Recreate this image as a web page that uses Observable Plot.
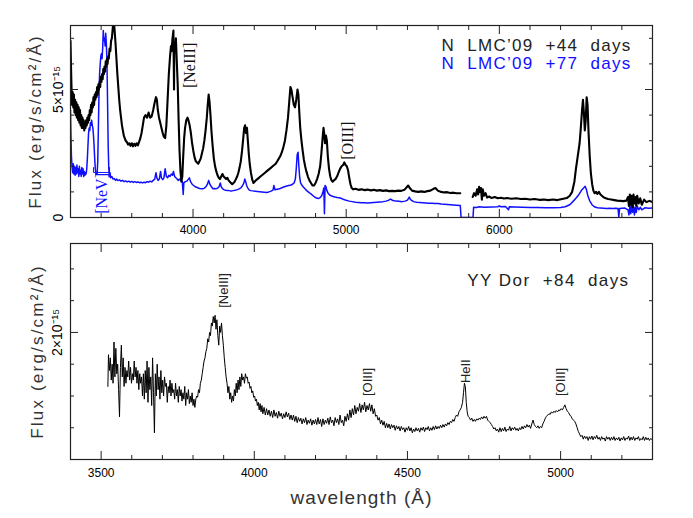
<!DOCTYPE html>
<html><head><meta charset="utf-8">
<script src="https://cdn.jsdelivr.net/npm/d3@7"></script>
<script src="https://cdn.jsdelivr.net/npm/@observablehq/plot@0.6"></script>
<style>
body{margin:0;background:#fff;}
#wrap{position:relative;width:693px;height:518px;overflow:hidden;}
#topPanel,#botPanel{position:absolute;left:0;}
#topPanel{top:0px}
#botPanel{top:240px}
</style></head><body><div id="wrap"><div id="topPanel"></div><div id="botPanel"></div></div>
<script>
// N LMC'09 +44 days  [wavelength Å, flux 1e-15 erg/s/cm2/Å]
const lmc44 = [[3200,6.9],[3203,6.0],[3206,5.2],[3210,4.4],[3214,4.9],[3218,4.3],[3222,4.8],[3226,4.1],[3230,4.6],[3234,4.0],[3238,4.5],[3242,3.9],[3246,4.4],[3250,3.8],[3254,4.3],[3258,3.7],[3262,4.2],[3266,3.6],[3270,4.0],[3274,3.5],[3278,3.9],[3282,3.5],[3286,3.8],[3290,3.4],[3294,3.7],[3298,3.5],[3302,3.8],[3306,3.6],[3310,3.9],[3314,3.7],[3318,4.0],[3322,3.8],[3326,4.2],[3330,4.0],[3334,4.4],[3338,4.1],[3342,4.5],[3346,4.3],[3350,4.7],[3354,4.4],[3358,4.8],[3362,4.6],[3366,4.9],[3370,4.7],[3374,5.1],[3378,4.8],[3382,5.2],[3386,5.0],[3390,5.3],[3394,5.1],[3398,5.5],[3402,5.3],[3406,5.6],[3410,5.4],[3414,5.8],[3418,5.6],[3422,5.9],[3426,5.7],[3430,6.1],[3434,5.9],[3438,6.2],[3442,6.0],[3446,6.3],[3450,6.2],[3455,6.6],[3460,6.5],[3465,6.9],[3470,7.0],[3476,7.4],[3482,7.8],[3488,7.3],[3494,6.8],[3500,6.2],[3506,5.6],[3512,5.1],[3518,4.6],[3524,4.2],[3530,3.9],[3536,3.6],[3542,3.4],[3548,3.2],[3554,3.1],[3560,3.0],[3568,2.95],[3576,2.85],[3584,2.9],[3592,2.8],[3600,2.9],[3608,2.78],[3616,2.88],[3624,2.8],[3632,2.9],[3640,2.82],[3648,2.95],[3656,3.1],[3664,3.3],[3672,3.6],[3680,3.9],[3690,4.0],[3700,3.9],[3710,4.1],[3720,3.9],[3730,3.95],[3740,4.2],[3750,4.5],[3758,4.7],[3764,4.6],[3770,4.2],[3778,3.9],[3786,3.7],[3794,3.5],[3802,3.3],[3810,3.15],[3818,3.1],[3826,3.6],[3834,4.6],[3842,5.6],[3850,6.3],[3856,6.7],[3860,6.5],[3866,7.0],[3872,7.3],[3876,5.0],[3878,6.8],[3884,6.5],[3888,7.0],[3894,6.1],[3900,5.2],[3906,3.8],[3912,2.6],[3918,1.8],[3924,1.4],[3930,1.6],[3936,2.4],[3942,3.1],[3948,3.5],[3956,3.8],[3964,3.9],[3970,3.8],[3978,3.6],[3986,3.3],[3994,2.9],[4002,2.6],[4010,2.35],[4018,2.2],[4026,2.15],[4034,2.1],[4042,2.2],[4050,2.3],[4058,2.5],[4066,2.7],[4074,3.0],[4082,3.4],[4090,3.9],[4096,4.4],[4102,4.8],[4108,4.5],[4114,4.0],[4120,3.4],[4128,2.8],[4136,2.3],[4144,2.0],[4152,1.8],[4160,1.65],[4168,1.55],[4176,1.5],[4184,1.6],[4192,1.7],[4200,1.6],[4208,1.55],[4216,1.5],[4224,1.55],[4232,1.45],[4240,1.4],[4248,1.35],[4256,1.3],[4264,1.35],[4272,1.4],[4280,1.5],[4288,1.6],[4296,1.75],[4304,1.95],[4312,2.2],[4320,2.6],[4328,3.1],[4334,3.5],[4340,3.6],[4346,3.3],[4352,3.5],[4358,3.0],[4364,2.5],[4370,2.1],[4378,1.75],[4386,1.5],[4394,1.35],[4402,1.4],[4410,1.45],[4420,1.5],[4430,1.55],[4440,1.6],[4450,1.65],[4460,1.7],[4470,1.75],[4480,1.8],[4490,1.85],[4500,1.9],[4510,1.95],[4520,2.0],[4530,2.05],[4540,2.1],[4550,2.2],[4560,2.3],[4570,2.4],[4580,2.55],[4590,2.75],[4600,3.0],[4610,3.4],[4620,3.9],[4628,4.5],[4636,5.1],[4642,5.0],[4650,4.7],[4658,4.4],[4666,4.3],[4674,4.6],[4682,5.0],[4688,4.8],[4694,4.1],[4700,3.5],[4708,3.0],[4716,2.6],[4724,2.25],[4732,2.0],[4740,1.8],[4750,1.6],[4760,1.45],[4770,1.35],[4780,1.25],[4790,1.25],[4800,1.35],[4810,1.5],[4820,1.7],[4830,2.0],[4838,2.5],[4846,3.1],[4852,3.5],[4858,3.2],[4862,2.9],[4868,3.2],[4874,3.0],[4880,2.4],[4888,1.9],[4896,1.6],[4904,1.45],[4912,1.4],[4920,1.45],[4930,1.5],[4940,1.6],[4950,1.75],[4960,1.9],[4970,2.0],[4980,2.05],[4988,2.15],[4996,2.05],[5004,2.0],[5012,1.85],[5020,1.55],[5028,1.3],[5036,1.15],[5046,1.1],[5060,1.12],[5080,1.08],[5100,1.1],[5120,1.07],[5140,1.09],[5160,1.06],[5180,1.08],[5200,1.05],[5220,1.07],[5240,1.04],[5260,1.06],[5280,1.03],[5300,1.04],[5320,1.03],[5340,1.05],[5360,1.04],[5380,1.08],[5395,1.18],[5405,1.25],[5415,1.15],[5430,1.05],[5450,1.02],[5470,1.0],[5490,1.02],[5510,1.0],[5530,1.03],[5550,1.05],[5570,1.12],[5584,1.15],[5598,1.05],[5620,1.0],[5640,0.98],[5660,0.99],[5680,0.96],[5700,0.97],[5720,0.95],[5745,0.95],[5790,null],[5826,0.8],[5835,0.95],[5845,0.85],[5855,1.1],[5862,0.9],[5868,1.2],[5874,1.0],[5880,1.15],[5886,0.7],[5892,1.1],[5900,0.85],[5910,0.95],[5920,0.78],[5935,0.82],[5950,0.76],[5970,0.8],[5990,0.75],[6010,0.77],[6030,0.74],[6050,0.76],[6080,0.73],[6110,0.75],[6140,0.72],[6170,0.73],[6200,0.7],[6230,0.72],[6260,0.69],[6290,0.7],[6320,0.68],[6350,0.7],[6380,0.68],[6410,0.72],[6440,0.76],[6460,0.85],[6475,1.0],[6490,1.4],[6500,1.9],[6512,2.4],[6524,2.9],[6532,3.5],[6540,4.2],[6546,4.6],[6552,4.1],[6558,3.4],[6564,3.8],[6570,4.7],[6576,4.4],[6582,3.4],[6590,2.4],[6598,1.7],[6606,1.3],[6614,1.05],[6622,0.95],[6632,1.0],[6640,0.92],[6650,1.0],[6660,0.9],[6675,0.82],[6690,0.76],[6710,0.72],[6730,0.7],[6750,0.68],[6770,0.66],[6790,0.65],[6810,0.64],[6830,0.66],[6840,0.8],[6846,0.45],[6852,0.9],[6858,0.5],[6864,0.85],[6870,0.4],[6876,0.9],[6882,0.55],[6888,0.8],[6894,0.45],[6900,0.85],[6910,0.55],[6920,0.75],[6930,0.5],[6945,0.7],[6960,0.6],[6980,0.65],[7000,0.6]];

// N LMC'09 +77 days
const lmc77 = [[3200,4.2],[3203,3.2],[3206,2.4],[3210,2.0],[3214,1.75],[3218,2.1],[3222,1.7],[3226,2.0],[3230,1.65],[3234,1.95],[3238,1.7],[3242,2.05],[3246,1.75],[3250,1.9],[3254,1.6],[3258,2.0],[3262,1.7],[3266,1.85],[3270,1.6],[3274,1.95],[3278,1.7],[3282,1.9],[3286,1.6],[3290,1.8],[3294,1.65],[3298,1.75],[3302,1.7],[3306,1.9],[3310,2.3],[3314,2.8],[3318,3.3],[3322,3.5],[3326,3.4],[3330,3.7],[3334,3.6],[3338,3.8],[3342,3.6],[3346,3.5],[3350,3.2],[3354,2.8],[3358,2.3],[3362,1.9],[3366,1.7],[3370,1.75],[3374,1.7],[3378,2.2],[3382,3.5],[3386,4.8],[3390,5.6],[3394,6.0],[3398,6.3],[3402,6.4],[3406,6.2],[3410,6.6],[3414,7.3],[3418,6.9],[3422,7.0],[3426,6.7],[3430,7.2],[3434,6.8],[3438,6.1],[3442,4.5],[3446,2.8],[3450,1.9],[3454,1.6],[3458,1.75],[3462,1.55],[3470,1.6],[3478,1.5],[3486,1.52],[3494,1.45],[3502,1.5],[3510,1.44],[3520,1.47],[3530,1.42],[3540,1.45],[3550,1.4],[3560,1.43],[3570,1.39],[3580,1.42],[3590,1.38],[3600,1.41],[3610,1.37],[3620,1.4],[3630,1.37],[3640,1.39],[3650,1.36],[3660,1.38],[3670,1.35],[3680,1.38],[3690,1.36],[3700,1.4],[3710,1.38],[3720,1.42],[3730,1.39],[3740,1.45],[3750,1.5],[3758,1.75],[3764,1.55],[3772,1.45],[3780,1.5],[3788,1.8],[3794,1.55],[3802,1.48],[3810,1.55],[3818,1.9],[3826,1.6],[3834,1.55],[3842,1.65],[3850,1.6],[3858,1.7],[3866,1.65],[3872,1.8],[3880,1.6],[3888,1.55],[3896,1.5],[3904,1.45],[3910,1.5],[3920,1.45],[3930,1.4],[3936,0.9],[3940,1.35],[3950,1.4],[3960,1.42],[3970,1.5],[3976,1.55],[3984,1.4],[3994,1.3],[4004,1.25],[4014,1.2],[4024,1.18],[4034,1.15],[4044,1.13],[4054,1.12],[4064,1.12],[4074,1.15],[4084,1.2],[4094,1.3],[4102,1.45],[4110,1.3],[4120,1.2],[4130,1.12],[4140,1.13],[4150,1.12],[4160,1.15],[4170,1.2],[4178,1.35],[4184,1.2],[4194,1.12],[4204,1.08],[4214,1.06],[4224,1.05],[4234,1.05],[4244,1.04],[4254,1.04],[4264,1.05],[4274,1.06],[4284,1.08],[4294,1.1],[4304,1.13],[4314,1.17],[4324,1.25],[4332,1.35],[4338,1.5],[4344,1.4],[4350,1.25],[4358,1.15],[4366,1.08],[4376,1.05],[4390,1.04],[4405,1.03],[4420,1.02],[4435,1.01],[4450,1.0],[4465,0.99],[4480,0.98],[4495,1.0],[4510,1.03],[4522,1.07],[4528,1.25],[4535,1.08],[4550,1.1],[4565,1.12],[4580,1.16],[4596,1.2],[4612,1.23],[4625,1.25],[4640,1.27],[4650,1.3],[4660,1.35],[4668,1.5],[4674,1.9],[4680,2.45],[4686,2.55],[4690,2.1],[4696,1.6],[4702,1.35],[4712,1.25],[4722,1.18],[4734,1.1],[4746,1.03],[4758,0.97],[4770,0.92],[4782,0.86],[4794,0.8],[4806,0.76],[4818,0.74],[4830,0.78],[4840,0.85],[4848,1.0],[4854,1.15],[4858,0.15],[4862,1.25],[4868,1.2],[4874,1.05],[4882,0.95],[4892,0.88],[4902,0.85],[4914,0.82],[4926,0.8],[4940,0.78],[4955,0.77],[4970,0.74],[4985,0.7],[5000,0.67],[5020,0.64],[5040,0.62],[5060,0.6],[5080,0.59],[5100,0.58],[5120,0.58],[5140,0.57],[5160,0.58],[5180,0.59],[5200,0.6],[5220,0.61],[5240,0.62],[5260,0.64],[5275,0.67],[5290,0.72],[5305,0.66],[5325,0.64],[5345,0.63],[5365,0.62],[5385,0.64],[5400,0.68],[5412,0.8],[5420,0.7],[5440,0.62],[5460,0.6],[5480,0.59],[5500,0.58],[5520,0.57],[5540,0.56],[5560,0.56],[5580,0.55],[5600,0.55],[5620,0.53],[5640,0.52],[5660,0.51],[5680,0.5],[5700,0.49],[5720,0.48],[5745,0.47],[5750,0],[5828,0],[5832,0.4],[5850,0.39],[5870,0.42],[5900,0.4],[5950,0.41],[5990,0.42],[6000,0.45],[6010,0.42],[6040,0.43],[6060,0.3],[6065,0.42],[6100,0.41],[6150,0.4],[6200,0.39],[6250,0.39],[6300,0.38],[6350,0.38],[6400,0.39],[6430,0.42],[6460,0.5],[6480,0.62],[6500,0.75],[6520,0.9],[6535,1.05],[6550,1.15],[6560,1.22],[6568,1.1],[6578,0.85],[6590,0.65],[6605,0.5],[6620,0.42],[6640,0.38],[6660,0.37],[6680,0.36],[6700,0.35],[6720,0.36],[6740,0.35],[6760,0.36],[6775,0.35],[6780,0.0],[6785,0.35],[6800,0.36],[6820,0.37],[6840,0.3],[6846,0.1],[6852,0.45],[6858,0.15],[6864,0.5],[6870,0.2],[6876,0.45],[6882,0.1],[6888,0.4],[6894,0.2],[6900,0.45],[6910,0.3],[6920,0.4],[6930,0.3],[6950,0.38],[6975,0.36],[7000,0.37]];

// YY Dor +84 days
const yyDor = [[3522,1.15],[3524,1.65],[3527,1.4],[3530,1.6],[3533,1.25],[3536,1.5],[3539,1.2],[3542,1.85],[3545,1.3],[3548,1.75],[3551,1.35],[3554,1.5],[3557,1.1],[3560,0.67],[3563,1.45],[3566,1.8],[3569,1.3],[3572,1.6],[3575,1.15],[3578,1.45],[3581,1.2],[3584,1.4],[3587,1.3],[3590,1.55],[3593,1.25],[3596,1.45],[3599,1.2],[3602,1.35],[3605,1.25],[3608,1.55],[3611,1.3],[3614,1.45],[3617,1.2],[3620,1.4],[3623,1.1],[3626,1.35],[3629,1.2],[3632,1.3],[3635,1.0],[3638,1.35],[3641,0.95],[3644,1.4],[3647,1.05],[3650,1.55],[3653,0.9],[3656,1.45],[3659,1.1],[3662,1.3],[3665,0.85],[3668,1.6],[3671,1.05],[3674,0.42],[3677,1.35],[3680,1.0],[3683,1.5],[3686,1.1],[3689,1.3],[3692,0.95],[3695,1.4],[3698,1.05],[3701,1.25],[3704,1.0],[3707,1.3],[3710,1.15],[3713,1.2],[3716,0.9],[3719,1.15],[3722,1.05],[3725,1.25],[3728,1.0],[3731,1.2],[3734,1.05],[3737,1.1],[3740,0.95],[3743,1.2],[3746,1.0],[3749,1.1],[3752,0.9],[3755,1.15],[3758,1.0],[3761,1.1],[3764,0.92],[3767,1.05],[3770,0.95],[3773,1.15],[3776,0.85],[3779,1.05],[3782,0.95],[3785,1.1],[3788,0.88],[3791,1.0],[3794,0.9],[3797,1.05],[3800,0.85],[3803,0.95],[3806,0.82],[3809,0.95],[3812,1.0],[3815,0.98],[3818,1.1],[3821,1.05],[3824,1.2],[3827,1.25],[3830,1.35],[3833,1.45],[3836,1.55],[3839,1.6],[3842,1.7],[3845,1.75],[3848,1.9],[3851,1.85],[3854,2.0],[3857,1.95],[3860,2.15],[3863,2.1],[3866,2.25],[3869,2.15],[3872,2.27],[3875,2.05],[3878,2.2],[3881,1.95],[3884,1.8],[3887,2.1],[3890,2.0],[3893,2.15],[3896,1.95],[3899,1.8],[3902,1.6],[3905,1.45],[3908,1.3],[3911,1.2],[3914,1.05],[3917,1.15],[3920,0.95],[3923,1.05],[3926,0.9],[3929,1.0],[3932,0.92],[3935,1.1],[3938,1.0],[3941,1.2],[3944,1.05],[3947,1.25],[3950,1.1],[3953,1.3],[3956,1.15],[3959,1.35],[3962,1.25],[3965,1.3],[3968,1.2],[3971,1.35],[3974,1.28],[3977,1.3],[3980,1.2],[3983,1.22],[3986,1.12],[3989,1.15],[3992,1.05],[3995,1.08],[3998,0.98],[4001,1.0],[4004,0.92],[4007,0.95],[4010,0.85],[4013,0.9],[4016,0.78],[4019,0.88],[4022,0.75],[4025,0.85],[4028,0.72],[4032,0.82],[4036,0.7],[4040,0.8],[4044,0.7],[4048,0.78],[4052,0.68],[4056,0.76],[4060,0.66],[4064,0.78],[4068,0.68],[4072,0.74],[4076,0.65],[4080,0.76],[4084,0.68],[4088,0.73],[4092,0.64],[4096,0.72],[4100,0.66],[4104,0.75],[4108,0.67],[4112,0.73],[4116,0.63],[4120,0.7],[4124,0.62],[4128,0.7],[4132,0.6],[4136,0.68],[4140,0.58],[4144,0.66],[4148,0.6],[4152,0.65],[4156,0.56],[4160,0.64],[4164,0.58],[4168,0.66],[4172,0.55],[4176,0.62],[4180,0.57],[4184,0.64],[4188,0.54],[4192,0.62],[4196,0.56],[4200,0.63],[4204,0.55],[4208,0.66],[4212,0.56],[4216,0.63],[4220,0.52],[4224,0.64],[4228,0.55],[4232,0.62],[4236,0.57],[4240,0.65],[4244,0.55],[4248,0.67],[4252,0.58],[4256,0.62],[4260,0.53],[4264,0.66],[4268,0.58],[4272,0.64],[4276,0.55],[4280,0.7],[4284,0.58],[4288,0.62],[4292,0.53],[4296,0.68],[4300,0.6],[4304,0.72],[4308,0.62],[4312,0.78],[4316,0.66],[4320,0.8],[4324,0.7],[4328,0.85],[4332,0.72],[4336,0.82],[4340,0.76],[4344,0.88],[4348,0.74],[4352,0.86],[4356,0.78],[4360,0.9],[4364,0.75],[4368,0.85],[4372,0.78],[4376,0.88],[4380,0.76],[4384,0.86],[4388,0.72],[4392,0.8],[4396,0.68],[4400,0.7],[4404,0.62],[4408,0.66],[4412,0.56],[4416,0.62],[4420,0.54],[4424,0.6],[4428,0.5],[4432,0.57],[4436,0.5],[4440,0.56],[4444,0.48],[4448,0.55],[4452,0.5],[4456,0.54],[4460,0.46],[4464,0.53],[4468,0.48],[4472,0.52],[4476,0.45],[4480,0.52],[4484,0.47],[4488,0.5],[4492,0.43],[4496,0.5],[4500,0.46],[4504,0.52],[4508,0.45],[4512,0.5],[4516,0.42],[4520,0.48],[4524,0.44],[4528,0.5],[4532,0.45],[4536,0.49],[4540,0.43],[4544,0.5],[4548,0.46],[4552,0.51],[4556,0.44],[4560,0.5],[4564,0.47],[4568,0.52],[4572,0.45],[4576,0.5],[4580,0.46],[4584,0.52],[4588,0.47],[4592,0.53],[4596,0.48],[4600,0.52],[4604,0.49],[4608,0.54],[4612,0.5],[4616,0.55],[4620,0.51],[4624,0.56],[4628,0.53],[4632,0.58],[4636,0.55],[4640,0.6],[4644,0.58],[4648,0.63],[4652,0.6],[4656,0.66],[4660,0.7],[4664,0.68],[4668,0.75],[4672,0.78],[4676,0.82],[4680,0.9],[4683,1.05],[4686,1.2],[4689,1.15],[4692,0.9],[4695,0.75],[4698,0.68],[4702,0.66],[4706,0.62],[4710,0.65],[4714,0.6],[4718,0.63],[4722,0.6],[4726,0.64],[4730,0.62],[4734,0.65],[4738,0.63],[4742,0.67],[4746,0.64],[4750,0.68],[4754,0.65],[4758,0.68],[4762,0.62],[4766,0.6],[4770,0.58],[4774,0.55],[4778,0.52],[4782,0.48],[4786,0.5],[4790,0.45],[4794,0.48],[4798,0.43],[4802,0.5],[4806,0.44],[4810,0.49],[4814,0.45],[4818,0.51],[4822,0.44],[4826,0.48],[4830,0.46],[4834,0.52],[4838,0.45],[4842,0.5],[4846,0.47],[4850,0.51],[4854,0.46],[4858,0.49],[4862,0.45],[4866,0.5],[4870,0.47],[4874,0.52],[4878,0.48],[4882,0.53],[4886,0.5],[4890,0.55],[4894,0.51],[4898,0.54],[4902,0.49],[4906,0.56],[4910,0.62],[4914,0.55],[4918,0.52],[4922,0.5],[4926,0.53],[4930,0.49],[4934,0.52],[4938,0.5],[4942,0.56],[4946,0.6],[4950,0.65],[4954,0.68],[4958,0.7],[4962,0.72],[4966,0.71],[4970,0.75],[4974,0.73],[4978,0.76],[4982,0.74],[4986,0.77],[4990,0.75],[4994,0.78],[4998,0.77],[5002,0.8],[5006,0.78],[5010,0.82],[5014,0.86],[5018,0.8],[5022,0.76],[5026,0.74],[5030,0.7],[5034,0.68],[5038,0.64],[5042,0.62],[5046,0.6],[5050,0.56],[5054,0.5],[5058,0.44],[5062,0.4],[5066,0.36],[5070,0.38],[5074,0.32],[5078,0.37],[5082,0.33],[5086,0.36],[5090,0.3],[5094,0.36],[5098,0.32],[5102,0.37],[5106,0.31],[5110,0.36],[5114,0.33],[5118,0.38],[5122,0.32],[5126,0.35],[5130,0.3],[5134,0.36],[5138,0.32],[5142,0.34],[5146,0.29],[5150,0.36],[5154,0.32],[5158,0.35],[5162,0.3],[5166,0.35],[5170,0.31],[5174,0.36],[5178,0.3],[5182,0.34],[5186,0.31],[5190,0.35],[5194,0.29],[5198,0.34],[5202,0.31],[5206,0.36],[5210,0.3],[5214,0.34],[5218,0.32],[5222,0.37],[5226,0.3],[5230,0.35],[5234,0.31],[5238,0.36],[5242,0.3],[5246,0.34],[5250,0.32],[5254,0.36],[5258,0.3],[5262,0.33],[5266,0.31],[5270,0.36],[5274,0.3],[5278,0.35],[5282,0.31],[5286,0.34],[5290,0.3],[5294,0.33],[5297,0.32]];

// tick values and labels
const topXMajor = [4000, 5000, 6000];
const topXMinor = [3200,3400,3600,3800,4200,4400,4600,4800,5200,5400,5600,5800,6200,6400,6600,6800,7000];
const topYMajor = [0, 5];
const topYMinor = [1, 2, 3, 4, 6, 7];
const topYLabels = ["0", "5×10⁻¹⁵"];
const botXMajor = [3500, 4000, 4500, 5000];
const botXMinor = [3400,3600,3700,3800,3900,4100,4200,4300,4400,4600,4700,4800,4900,5100,5200,5300];
const botYMajor = [2];
const botYMinor = [0.5, 1, 1.5, 2.5, 3];
const botYLabels = ["2×10⁻¹⁵"];

// annotations
const topLines = [{x: 3977, y: 5.94, t: "[NeIII]", c: "#111"}, {x: 5009, y: 3.0, t: "[OIII]", c: "#111"}, {x: 3402, y: 0.94, t: "[NeV]", c: "#1010ff"}];
const neVBar = [[3350, 1.95], [3350, 1.76], [3455, 1.76], [3455, 1.95]];
const botLines = [{x: 3900, y: 2.66, t: "[NeIII]"}, {x: 4371, y: 1.22, t: "[OIII]"}, {x: 4691, y: 1.39, t: "HeII"}, {x: 5001, y: 1.22, t: "[OIII]"}];
const legendTop44 = ["N\u00a0\u00a0LMC’09\u00a0\u00a0+44\u00a0\u00a0days"];
const legendTop77 = ["N\u00a0\u00a0LMC’09\u00a0\u00a0+77\u00a0\u00a0days"];
const legendBot = ["YY\u00a0Dor\u00a0\u00a0+84\u00a0\u00a0days"];
const yTitle = "Flux (erg/s/cm²/Å)";
const xTitle = "wavelength (Å)";

const SANS = "'Liberation Sans', Arial, sans-serif";
const SERIF = "'Liberation Serif', 'Times New Roman', serif";
const frameCol = "#222";
const BLUE = "#1010ff";

function tickMarks(xMaj, xMin, yMaj, yMin) {
  const o = {stroke: frameCol, strokeWidth: 1, fill: "none", label: null};
  return [
    Plot.axisX(xMaj, {anchor: "bottom", tickSize: -8, ...o}),
    Plot.axisX(xMaj, {anchor: "top", tickSize: -8, ...o}),
    Plot.axisX(xMin, {anchor: "bottom", tickSize: -4, ...o}),
    Plot.axisX(xMin, {anchor: "top", tickSize: -4, ...o}),
    Plot.axisY(yMaj, {anchor: "left", tickSize: -8, ...o}),
    Plot.axisY(yMaj, {anchor: "right", tickSize: -8, ...o}),
    Plot.axisY(yMin, {anchor: "left", tickSize: -4, ...o}),
    Plot.axisY(yMin, {anchor: "right", tickSize: -4, ...o})
  ];
}

const topPlot = Plot.plot({
  width: 693, height: 240,
  marginLeft: 70, marginRight: 41, marginTop: 25, marginBottom: 23,
  x: {domain: [3200, 7000], axis: null},
  y: {domain: [0, 7.5], axis: null},
  style: {fontFamily: SANS, fontSize: "12px", color: "#000", background: "transparent", overflow: "visible"},
  marks: [
    Plot.line(lmc77, {x: d => d[0], y: d => d[1], stroke: BLUE, strokeWidth: 1.5, clip: true}),
    Plot.line(lmc44, {x: d => d[0], y: d => d[1], stroke: "#000", strokeWidth: 2.1, clip: true}),
    Plot.line(neVBar, {x: d => d[0], y: d => d[1], stroke: BLUE, strokeWidth: 1}),
    Plot.text(topLines, {x: "x", y: "y", text: "t", fill: d => d.c, rotate: -90, fontFamily: SERIF, fontSize: 16, textAnchor: "middle", lineAnchor: "middle"}),
    Plot.text(legendTop44, {text: d => d, fill: "#222", frameAnchor: "top-right", dx: -21, dy: 20, textAnchor: "end", lineAnchor: "middle", fontSize: 17}),
    Plot.text(legendTop77, {text: d => d, fill: BLUE, frameAnchor: "top-right", dx: -21, dy: 38, textAnchor: "end", lineAnchor: "middle", fontSize: 17}),
    ...tickMarks(topXMajor, topXMinor, topYMajor, topYMinor),
    Plot.frame({stroke: frameCol, strokeWidth: 1.2}),
    Plot.axisX(topXMajor, {tickSize: 0, tickPadding: 8, tickFormat: d => String(d), fontSize: 12, label: null}),
    Plot.text(topYMajor, {y: d => d, text: (d, i) => topYLabels[i], frameAnchor: "left", dx: -12, rotate: -90, fontSize: 14, textAnchor: "middle", lineAnchor: "middle"}),
    Plot.text([yTitle], {text: d => d, frameAnchor: "left", dx: -35, rotate: -90, fontSize: 17, fill: "#333", textAnchor: "middle", lineAnchor: "middle"})
  ]
});
document.getElementById("topPanel").appendChild(topPlot);

const botPlot = Plot.plot({
  width: 693, height: 278,
  marginLeft: 70, marginRight: 41, marginTop: 3, marginBottom: 59,
  x: {domain: [3400, 5300], axis: null},
  y: {domain: [0, 3.4], axis: null},
  style: {fontFamily: SANS, fontSize: "12px", color: "#000", background: "transparent", overflow: "visible"},
  marks: [
    Plot.line(yyDor, {x: d => d[0], y: d => d[1], stroke: "#000", strokeWidth: 1, clip: true}),
    Plot.text(botLines, {x: "x", y: "y", text: "t", rotate: -90, fontSize: 13, fill: "#222", textAnchor: "middle", lineAnchor: "middle"}),
    Plot.text(legendBot, {text: d => d, frameAnchor: "top-right", dx: -23, dy: 37, textAnchor: "end", lineAnchor: "middle", fontSize: 17, fill: "#222"}),
    ...tickMarks(botXMajor, botXMinor, botYMajor, botYMinor),
    Plot.frame({stroke: frameCol, strokeWidth: 1.2}),
    Plot.axisX(botXMajor, {tickSize: 0, tickPadding: 9, tickFormat: d => String(d), fontSize: 12, label: null}),
    Plot.text(botYMajor, {y: d => d, text: (d, i) => botYLabels[i], frameAnchor: "left", dx: -13, rotate: -90, fontSize: 14, textAnchor: "middle", lineAnchor: "middle"}),
    Plot.text([yTitle], {text: d => d, frameAnchor: "left", dx: -33, rotate: -90, fontSize: 17, fill: "#333", textAnchor: "middle", lineAnchor: "middle"}),
    Plot.text([xTitle], {text: d => d, frameAnchor: "bottom", dy: 38, fontSize: 19, fill: "#333", textAnchor: "middle", lineAnchor: "middle"})
  ]
});
document.getElementById("botPanel").appendChild(botPlot);

// letter spacing (not a Plot text option) applied to the rendered text nodes
const spacing = [[legendTop44[0], "1.3px"], [legendTop77[0], "1.3px"], [legendBot[0], "1.4px"], [yTitle, "2.2px"], [xTitle, "1.1px"]];
for (const svg of [topPlot, botPlot]) {
  d3.select(svg).selectAll("text").each(function() {
    const s = spacing.find(([t]) => t === this.textContent);
    if (s) this.style.letterSpacing = s[1];
  });
}
</script>
</body></html>
